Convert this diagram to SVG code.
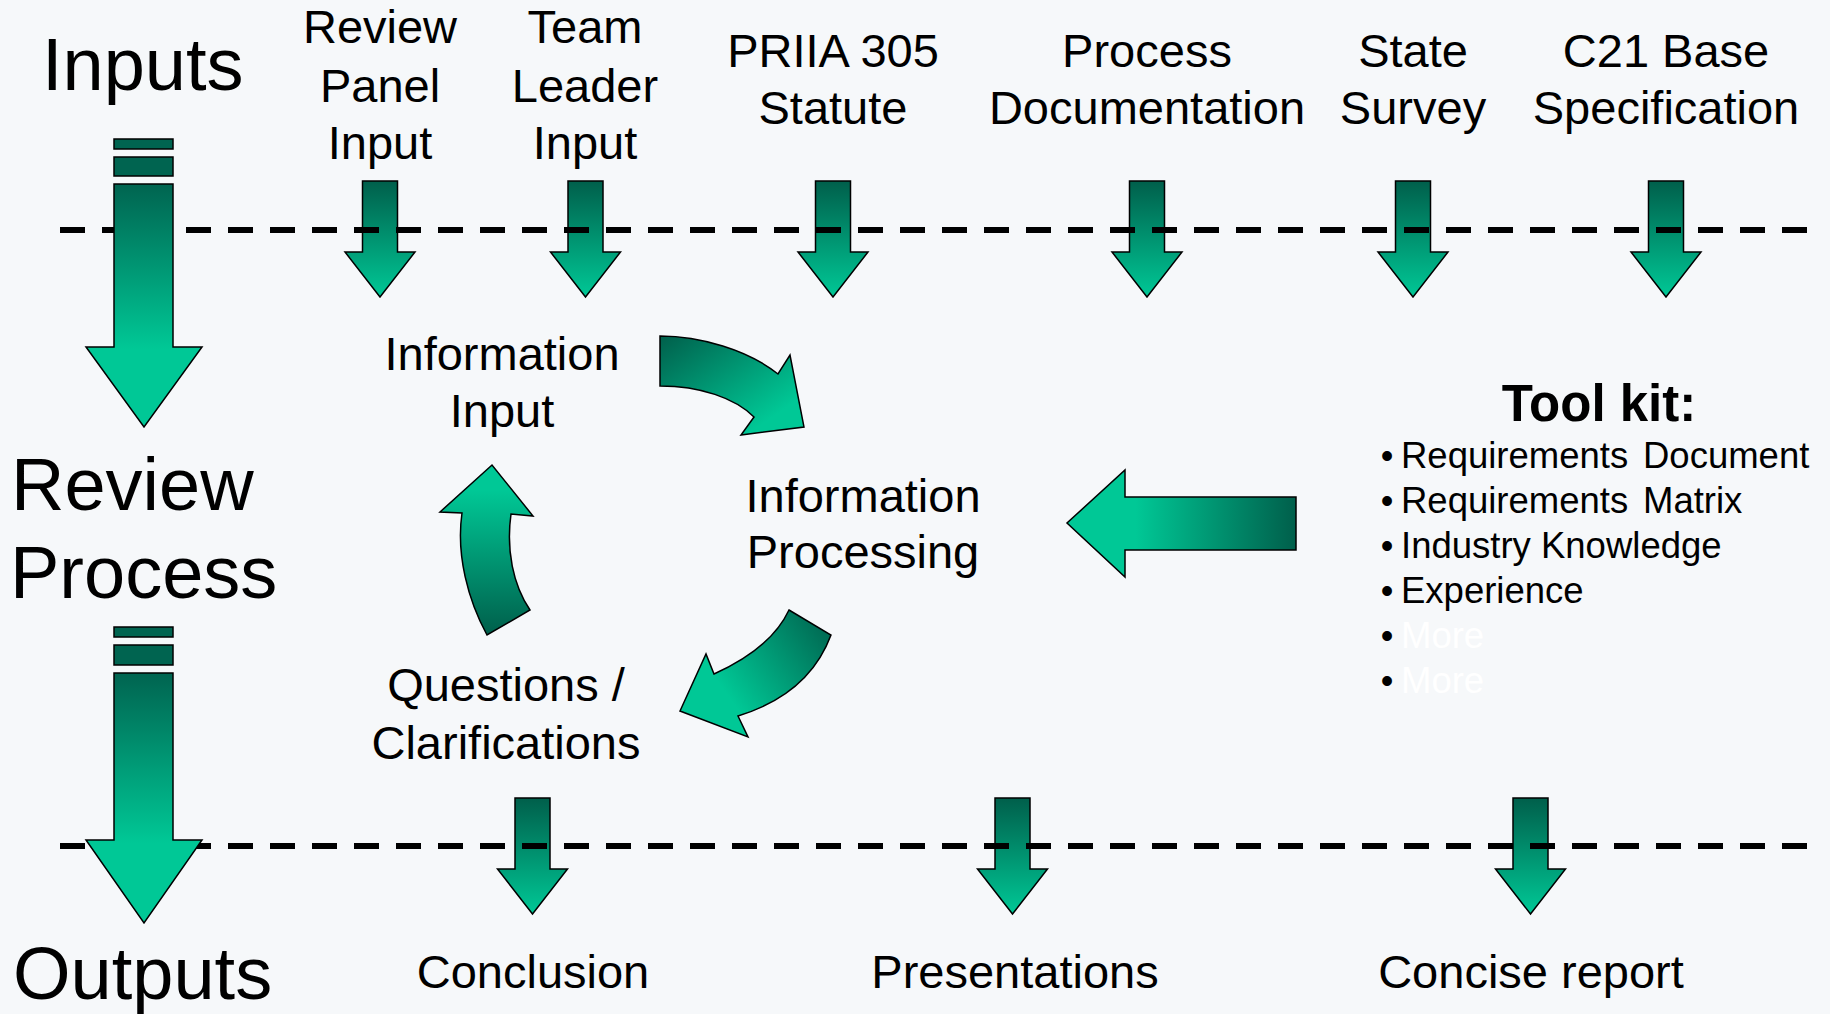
<svg xmlns="http://www.w3.org/2000/svg" xmlns:xlink="http://www.w3.org/1999/xlink" width="1830" height="1014" viewBox="0 0 1830 1014">
<style>
  text { font-family: "Liberation Sans", Arial, sans-serif; fill: #000; }
  .big { font-size: 74px; }
  .lbl { font-size: 47px; text-anchor: middle; }
  .tk { font-size: 51px; font-weight: bold; text-anchor: middle; }
  .li { font-size: 36.5px; }
  .bul { font-size: 36px; text-anchor: middle; }
  .more { fill: #FFFFFF; }
  .arr { stroke: #000; stroke-width: 1.5; stroke-linejoin: miter; }
  .dash { stroke: #000; stroke-width: 6; stroke-dasharray: 25 17; fill: none; }
  .bar { fill: #006450; stroke: #000; stroke-width: 1.5; }
</style>
<defs>
  <linearGradient id="gv" x1="0" y1="0" x2="0" y2="1">
    <stop offset="0" stop-color="#005F4B"/>
    <stop offset="1" stop-color="#00C896"/>
  </linearGradient>
  <linearGradient id="gbig" x1="0" y1="0" x2="0" y2="1">
    <stop offset="0" stop-color="#006450"/>
    <stop offset="0.68" stop-color="#00C896"/>
    <stop offset="1" stop-color="#00C896"/>
  </linearGradient>
  <linearGradient id="gleft" x1="0" y1="0" x2="1" y2="0">
    <stop offset="0" stop-color="#00C896"/>
    <stop offset="0.3" stop-color="#00C896"/>
    <stop offset="1" stop-color="#005F4B"/>
  </linearGradient>
  <linearGradient id="gA" x1="0" y1="0" x2="1" y2="1">
    <stop offset="0" stop-color="#005F4B"/>
    <stop offset="0.8" stop-color="#00C896"/>
  </linearGradient>
  <linearGradient id="gB" x1="1" y1="0" x2="0" y2="0.6">
    <stop offset="0" stop-color="#005F4B"/>
    <stop offset="0.8" stop-color="#00C896"/>
  </linearGradient>
  <linearGradient id="gC" x1="0" y1="1" x2="0" y2="0">
    <stop offset="0" stop-color="#005F4B"/>
    <stop offset="0.85" stop-color="#00C896"/>
  </linearGradient>
  <path id="sa" d="M-17.5,181 H17.5 V252 H35 L0,297 L-35,252 H-17.5 Z"/>
</defs>
<rect x="0" y="0" width="1830" height="1014" fill="#F6F8FA"/>

<g id="connectors">
  <use xlink:href="#sa" href="#sa" x="380" y="0" class="arr" fill="url(#gv)"/>
  <use xlink:href="#sa" href="#sa" x="585.5" y="0" class="arr" fill="url(#gv)"/>
  <use xlink:href="#sa" href="#sa" x="833" y="0" class="arr" fill="url(#gv)"/>
  <use xlink:href="#sa" href="#sa" x="1147" y="0" class="arr" fill="url(#gv)"/>
  <use xlink:href="#sa" href="#sa" x="1413" y="0" class="arr" fill="url(#gv)"/>
  <use xlink:href="#sa" href="#sa" x="1666" y="0" class="arr" fill="url(#gv)"/>
  <use xlink:href="#sa" href="#sa" x="532.5" y="617" class="arr" fill="url(#gv)"/>
  <use xlink:href="#sa" href="#sa" x="1012.5" y="617" class="arr" fill="url(#gv)"/>
  <use xlink:href="#sa" href="#sa" x="1530.5" y="617" class="arr" fill="url(#gv)"/>

  <line class="dash" x1="60" y1="230" x2="1808" y2="230"/>
  <line class="dash" x1="60" y1="846" x2="1808" y2="846"/>

  <rect class="bar" x="114" y="139" width="59" height="10"/>
  <rect class="bar" x="114" y="157" width="59" height="19"/>
  <path class="arr" fill="url(#gbig)" d="M114,184 H173 V347 H202 L144,427 L86,347 H114 Z"/>
  <rect class="bar" x="114" y="627" width="59" height="10"/>
  <rect class="bar" x="114" y="645" width="59" height="20"/>
  <path class="arr" fill="url(#gbig)" d="M114,673 H173 V840 H202 L144,923 L86,840 H114 Z"/>

  <path class="arr" fill="url(#gleft)" d="M1296,497 V550 H1125 V577 L1067,523 L1125,470 V497 Z"/>

  <path class="arr" fill="url(#gA)" d="M660,336 C700,336 748,350 778,374 L790,355 L804,427 L741,435 L754,417 C735,398 700,386 660,386 Z"/>
  <path class="arr" fill="url(#gB)" d="M789,610 L831,635 C818,670 790,700 738,716 L748,737 L680,711 L706,654 L714,674 C745,660 775,640 789,610 Z"/>
  <path class="arr" fill="url(#gC)" d="M487,635 C468,600 456,555 462,513 L440,512 L492,465 L533,516 L511,514 C506,550 513,585 530,610 Z"/>
</g>

<g id="phase-inputs"><text class="big" x="42" y="90">Inputs</text></g>
<g id="phase-review"><text class="big" x="11" y="510">Review</text><text class="big" x="10" y="598">Process</text></g>
<g id="phase-outputs"><text class="big" x="13" y="999">Outputs</text></g>

<g id="in-review-panel"><text class="lbl" x="380" y="43">Review</text><text class="lbl" x="380" y="102">Panel</text><text class="lbl" x="380" y="159">Input</text></g>
<g id="in-team-leader"><text class="lbl" x="585" y="43">Team</text><text class="lbl" x="585" y="102">Leader</text><text class="lbl" x="585" y="159">Input</text></g>
<g id="in-priia"><text class="lbl" x="833" y="67">PRIIA 305</text><text class="lbl" x="833" y="124">Statute</text></g>
<g id="in-process-doc"><text class="lbl" x="1147" y="67">Process</text><text class="lbl" x="1147" y="124">Documentation</text></g>
<g id="in-state-survey"><text class="lbl" x="1413" y="67">State</text><text class="lbl" x="1413" y="124">Survey</text></g>
<g id="in-c21"><text class="lbl" x="1666" y="67">C21 Base</text><text class="lbl" x="1666" y="124">Specification</text></g>

<g id="info-input"><text class="lbl" x="502" y="370">Information</text><text class="lbl" x="502" y="427">Input</text></g>
<g id="info-processing"><text class="lbl" x="863" y="512">Information</text><text class="lbl" x="863" y="568">Processing</text></g>
<g id="questions"><text class="lbl" x="506" y="701">Questions /</text><text class="lbl" x="506" y="759">Clarifications</text></g>

<g id="toolkit">
  <text class="tk" x="1599" y="421">Tool kit:</text>
  <text class="bul" x="1387" y="468">•</text><text class="li" x="1401" y="468">Requirements<tspan x="1643">Document</tspan></text>
  <text class="bul" x="1387" y="513">•</text><text class="li" x="1401" y="513">Requirements<tspan x="1643">Matrix</tspan></text>
  <text class="bul" x="1387" y="558">•</text><text class="li" x="1401" y="558">Industry Knowledge</text>
  <text class="bul" x="1387" y="603">•</text><text class="li" x="1401" y="603">Experience</text>
  <text class="bul" x="1387" y="648">•</text><text class="li more" x="1401" y="648">More</text>
  <text class="bul" x="1387" y="693">•</text><text class="li more" x="1401" y="693">More</text>
</g>

<g id="out-conclusion"><text class="lbl" x="533" y="988">Conclusion</text></g>
<g id="out-presentations"><text class="lbl" x="1015" y="988">Presentations</text></g>
<g id="out-report"><text class="lbl" x="1531" y="988">Concise report</text></g>
</svg>
